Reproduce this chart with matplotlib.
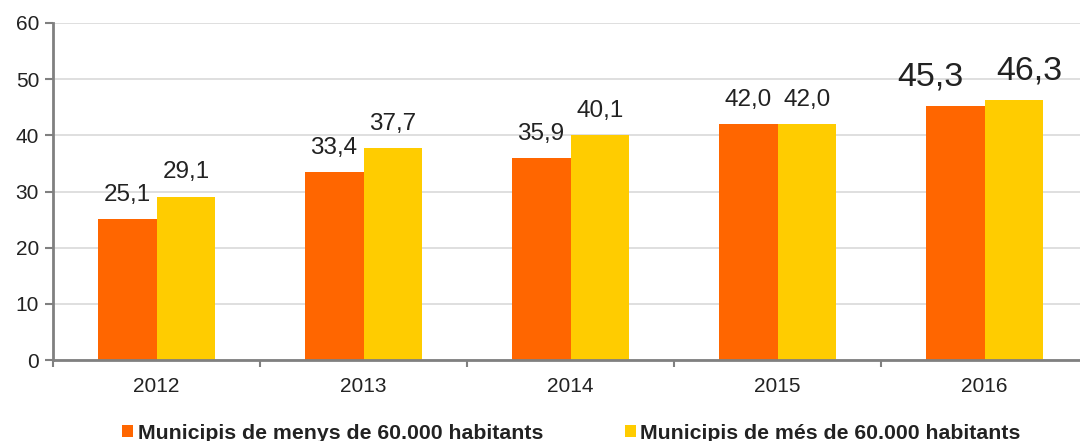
import matplotlib
matplotlib.use('Agg')
import matplotlib.pyplot as plt
import numpy as np

plt.rcParams['font.family'] = ['Liberation Sans', 'DejaVu Sans']

anys = ['2012', '2013', '2014', '2015', '2016']
menys_60000 = [25.1, 33.4, 35.9, 42.0, 45.3]
mes_60000 = [29.1, 37.7, 40.1, 42.0, 46.3]
series = ['Municipis de menys de 60.000 habitants', 'Municipis de més de 60.000 habitants']
couleurs = ['#ff6600', '#ffcc00']

x = np.arange(len(anys))
largeur = 0.285

fig = plt.figure(figsize=(10.8, 4.41), dpi=100)
ax = fig.add_axes([53 / 1080, 81 / 441, 1035 / 1080, 337 / 441])

# decalage horizontal des etiquettes de la derniere annee (plus grandes)
decal_x = [-18, 11]

barres = []
for i, (vals, nom) in enumerate(zip([menys_60000, mes_60000], series)):
    pos = x + (i - 0.5) * largeur
    b = ax.bar(pos, vals, largeur, color=couleurs[i], label=nom, zorder=3)
    barres.append(b)
    for j, (xx, v) in enumerate(zip(pos, vals)):
        if j == len(anys) - 1:
            taille, dx, dy = 24.5, decal_x[i], 14.5
        else:
            taille, dx, dy = 17.5, 0, 13
        ax.annotate(f'{v:.1f}'.replace('.', ','), (xx, v), xytext=(dx, dy),
                    textcoords='offset points', ha='center', va='baseline',
                    fontsize=taille, color='#222222')

ax.set_xlim(-0.5, len(anys) - 0.5)
ax.set_ylim(0, 60)
ax.set_yticks(range(0, 61, 10))
ax.set_xticks(x)
ax.set_xticklabels(anys)
ax.set_xticks(np.arange(-0.5, len(anys), 1), minor=True)
ax.tick_params(axis='x', which='major', length=0, labelsize=15, pad=12, colors='#222222')
ax.tick_params(axis='x', which='minor', length=5, width=1.5, color='#808080')
ax.tick_params(axis='y', length=6, width=1.5, color='#808080', labelsize=15, labelcolor='#222222', pad=4)

ax.grid(axis='y', color='#d9d9d9', linewidth=1.2, zorder=0)
for cote in ['top', 'right']:
    ax.spines[cote].set_visible(False)
for cote in ['left', 'bottom']:
    ax.spines[cote].set_color('#808080')
    ax.spines[cote].set_linewidth(2)
    ax.spines[cote].set_zorder(4)

leg = fig.legend(handles=barres, loc='center', bbox_to_anchor=(0.529, 0.018), ncol=2,
                 frameon=False, prop={'size': 15.3, 'weight': 'bold'}, handlelength=0.52,
                 handleheight=0.52, handletextpad=0.2, columnspacing=3.84)
for t in leg.get_texts():
    t.set_color('#222222')

plt.savefig('out.png', dpi=100)
plt.close()
